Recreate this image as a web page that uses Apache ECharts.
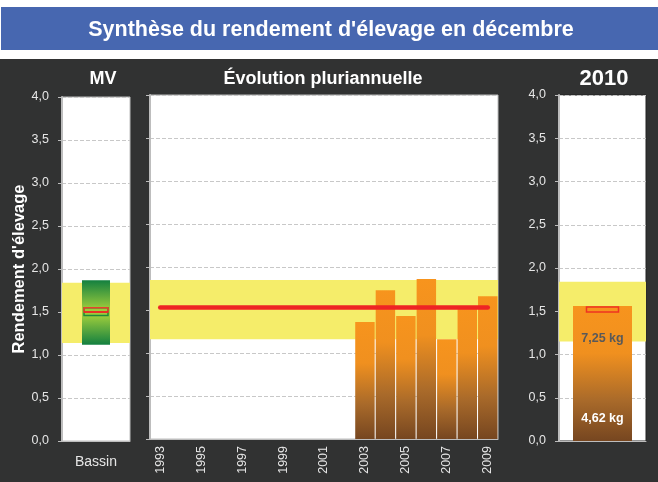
<!DOCTYPE html>
<html>
<head>
<meta charset="utf-8">
<script src="https://cdn.jsdelivr.net/npm/echarts@6/dist/echarts.min.js"></script>
<style>
  html, body { margin: 0; padding: 0; background: #ffffff; }
  #chart { width: 658px; height: 482px; }
</style>
</head>
<body>
<div id="chart"></div>
<script>
// données
var years = ['1993','1994','1995','1996','1997','1998','1999','2000','2001','2002','2003','2004','2005','2006','2007','2008','2009'];
var rendement = [null,null,null,null,null,null,null,null,null,null,1.36,1.73,1.43,1.86,1.16,1.54,1.66];
var moyenne = 1.53;               // ligne rouge pluriannuelle
var bandeMV = [1.14, 1.84];       // zone jaune
var bandeEvol = [1.16, 1.85];
var bande2010 = [1.15, 1.84];
var bassin = { bas: 1.12, haut: 1.87, rougeBas: 1.46, rougeHaut: 1.55, rougeMilieu: 1.50 };
var an2010 = 1.56;
var rouge2010 = [1.49, 1.55];
var etiquettes2010 = [{ v: 1.19, t: '7,25 kg', c: '#595959' }, { v: 0.26, t: '4,62 kg', c: '#ffffff' }];

var font = '"Liberation Sans", Arial, sans-serif';
var fmt = function (v) { return v.toFixed(1).replace('.', ','); };

var myChart = echarts.init(document.getElementById('chart'));

function yAxe(grid, showLabels, name) {
    return {
        gridIndex: grid, type: 'value', min: 0, max: 4, interval: 0.5,
        name: name || '', nameLocation: 'middle', nameGap: 34,
        nameTextStyle: { color: '#ffffff', fontSize: 16.5, fontWeight: 'bold', fontFamily: font },
        axisLine: { show: true, lineStyle: { color: '#bdbdbd', width: 2 } },
        axisTick: { show: true, length: 4, lineStyle: { color: '#bdbdbd' } },
        axisLabel: { show: showLabels, color: '#e6e6e6', fontSize: 12.5, fontFamily: font, formatter: fmt, margin: 13 },
        splitLine: { show: true, lineStyle: { color: '#c8c8c8', type: 'dashed' } }
    };
}

var orangeGrad = new echarts.graphic.LinearGradient(0, 0, 0, 1, [
    { offset: 0, color: '#f7941d' },
    { offset: 0.35, color: '#f0901f' },
    { offset: 0.7, color: '#a96a2a' },
    { offset: 1, color: '#764620' }
]);
var greenGrad = new echarts.graphic.LinearGradient(0, 0, 0, 1, [
    { offset: 0, color: '#138040' },
    { offset: 0.45, color: '#9ccc3c' },
    { offset: 0.55, color: '#9ccc3c' },
    { offset: 1, color: '#138040' }
]);

myChart.setOption({
    backgroundColor: '#ffffff',
    animation: false,
    graphic: [
        { type: 'rect', z: -10, shape: { x: 1, y: 7, width: 657, height: 43 }, style: { fill: '#4767b0' } },
        { type: 'rect', z: -10, shape: { x: 0, y: 59, width: 658, height: 423 }, style: { fill: '#313232' } }
    ],
    title: [
        { text: "Synthèse du rendement d'élevage en décembre", left: 326, top: 14, textAlign: 'center',
          textStyle: { color: '#ffffff', fontSize: 21.5, fontWeight: 'bold', fontFamily: font } },
        { text: 'MV', left: 98, top: 65, textAlign: 'center',
          textStyle: { color: '#ffffff', fontSize: 18, fontWeight: 'bold', fontFamily: font } },
        { text: 'Évolution pluriannuelle', left: 318, top: 65, textAlign: 'center',
          textStyle: { color: '#ffffff', fontSize: 18, fontWeight: 'bold', fontFamily: font } },
        { text: '2010', left: 599, top: 63, textAlign: 'center',
          textStyle: { color: '#ffffff', fontSize: 22, fontWeight: 'bold', fontFamily: font } }
    ],
    grid: [
        { left: 62, top: 97, width: 68, height: 344, show: true, backgroundColor: '#ffffff', borderColor: '#bdbdbd', borderWidth: 1 },
        { left: 150, top: 95, width: 348, height: 344, show: true, backgroundColor: '#ffffff', borderColor: '#bdbdbd', borderWidth: 1 },
        { left: 559, top: 95, width: 87, height: 346, show: true, backgroundColor: '#ffffff', borderColor: '#222222', borderWidth: 1 }
    ],
    xAxis: [
        { gridIndex: 0, type: 'category', data: ['Bassin'],
          axisLine: { lineStyle: { color: '#bdbdbd' } }, axisTick: { length: 4, lineStyle: { color: '#bdbdbd' } },
          axisLabel: { color: '#e6e6e6', fontSize: 14, fontFamily: font, margin: 14 } },
        { gridIndex: 1, type: 'category', data: years,
          axisLine: { lineStyle: { color: '#bdbdbd' } }, axisTick: { length: 4, interval: 0, lineStyle: { color: '#bdbdbd' } },
          axisLabel: { color: '#e6e6e6', fontSize: 12.5, fontFamily: font, rotate: 90, interval: 1, margin: 7 } },
        { gridIndex: 2, type: 'category', data: ['2010'],
          axisLine: { lineStyle: { color: '#bdbdbd' } }, axisTick: { length: 4, lineStyle: { color: '#bdbdbd' } },
          axisLabel: { show: false } }
    ],
    yAxis: [
        yAxe(0, true, "Rendement d'élevage"),
        yAxe(1, false),
        yAxe(2, true)
    ],
    series: [
        // MV
        {
            type: 'custom', xAxisIndex: 0, yAxisIndex: 0, z: 3,
            data: [[0, bassin.bas, bassin.haut, bassin.rougeBas, bassin.rougeHaut, bassin.rougeMilieu]],
            markArea: { silent: true, itemStyle: { color: '#f5ed6a' }, data: [[{ yAxis: bandeMV[0] }, { yAxis: bandeMV[1] }]] },
            renderItem: function (params, api) {
                var top = api.coord([api.value(0), api.value(2)]);
                var bot = api.coord([api.value(0), api.value(1)]);
                var rTop = api.coord([api.value(0), api.value(4)]);
                var rBot = api.coord([api.value(0), api.value(3)]);
                var rMid = api.coord([api.value(0), api.value(5)]);
                var w = 28, rw = 24;
                return { type: 'group', children: [
                    { type: 'rect', shape: { x: top[0] - w / 2, y: top[1], width: w, height: bot[1] - top[1] }, style: { fill: greenGrad } },
                    { type: 'rect', shape: { x: rTop[0] - rw / 2, y: rTop[1], width: rw, height: rBot[1] - rTop[1] },
                      style: { fill: 'none', stroke: '#1f8a3a', lineWidth: 1.5 } },
                    { type: 'rect', shape: { x: rTop[0] - rw / 2, y: rTop[1], width: rw, height: (rBot[1] - rTop[1]) * 0.55 },
                      style: { fill: 'none', stroke: '#e8432c', lineWidth: 1.5 } },
                    { type: 'line', shape: { x1: rMid[0] - rw / 2, y1: rMid[1], x2: rMid[0] + rw / 2, y2: rMid[1] },
                      style: { stroke: '#ee2222', lineWidth: 1.5 } }
                ] };
            }
        },
        // Évolution pluriannuelle : zone jaune
        {
            type: 'line', xAxisIndex: 1, yAxisIndex: 1, z: 1, data: [],
            markArea: { silent: true, itemStyle: { color: '#f5ed6a' }, data: [[{ yAxis: bandeEvol[0] }, { yAxis: bandeEvol[1] }]] }
        },
        {
            type: 'bar', xAxisIndex: 1, yAxisIndex: 1, z: 3, data: rendement, barCategoryGap: '5%',
            itemStyle: { color: orangeGrad },
            markLine: {
                silent: true, symbol: 'none', label: { show: false },
                lineStyle: { color: '#ee2424', width: 4.5, type: 'solid', cap: 'round' },
                data: [[{ coord: ['1993', moyenne] }, { coord: ['2009', moyenne] }]]
            }
        },
        // 2010
        {
            type: 'bar', xAxisIndex: 2, yAxisIndex: 2, z: 3, data: [an2010], barWidth: 59,
            itemStyle: { color: orangeGrad },
            markArea: { silent: true, itemStyle: { color: '#f5ed6a' }, data: [[{ yAxis: bande2010[0] }, { yAxis: bande2010[1] }]] }
        },
        {
            type: 'custom', xAxisIndex: 2, yAxisIndex: 2, z: 4,
            data: [[0, rouge2010[0], rouge2010[1]]],
            renderItem: function (params, api) {
                var t = api.coord([0, api.value(2)]);
                var b = api.coord([0, api.value(1)]);
                return { type: 'rect', shape: { x: t[0] - 16, y: t[1], width: 32, height: b[1] - t[1] },
                         style: { fill: 'none', stroke: '#ee3322', lineWidth: 1.5 } };
            }
        },
        {
            type: 'custom', xAxisIndex: 2, yAxisIndex: 2, z: 5,
            data: etiquettes2010.map(function (e) { return [0, e.v, e.t, e.c]; }),
            renderItem: function (params, api) {
                var p = api.coord([0, api.value(1)]);
                var e = etiquettes2010[params.dataIndex];
                return { type: 'text', x: p[0], y: p[1],
                         style: { text: e.t, fill: e.c, font: 'bold 12.5px ' + font, align: 'center', verticalAlign: 'middle' } };
            }
        }
    ]
});
</script>
</body>
</html>
